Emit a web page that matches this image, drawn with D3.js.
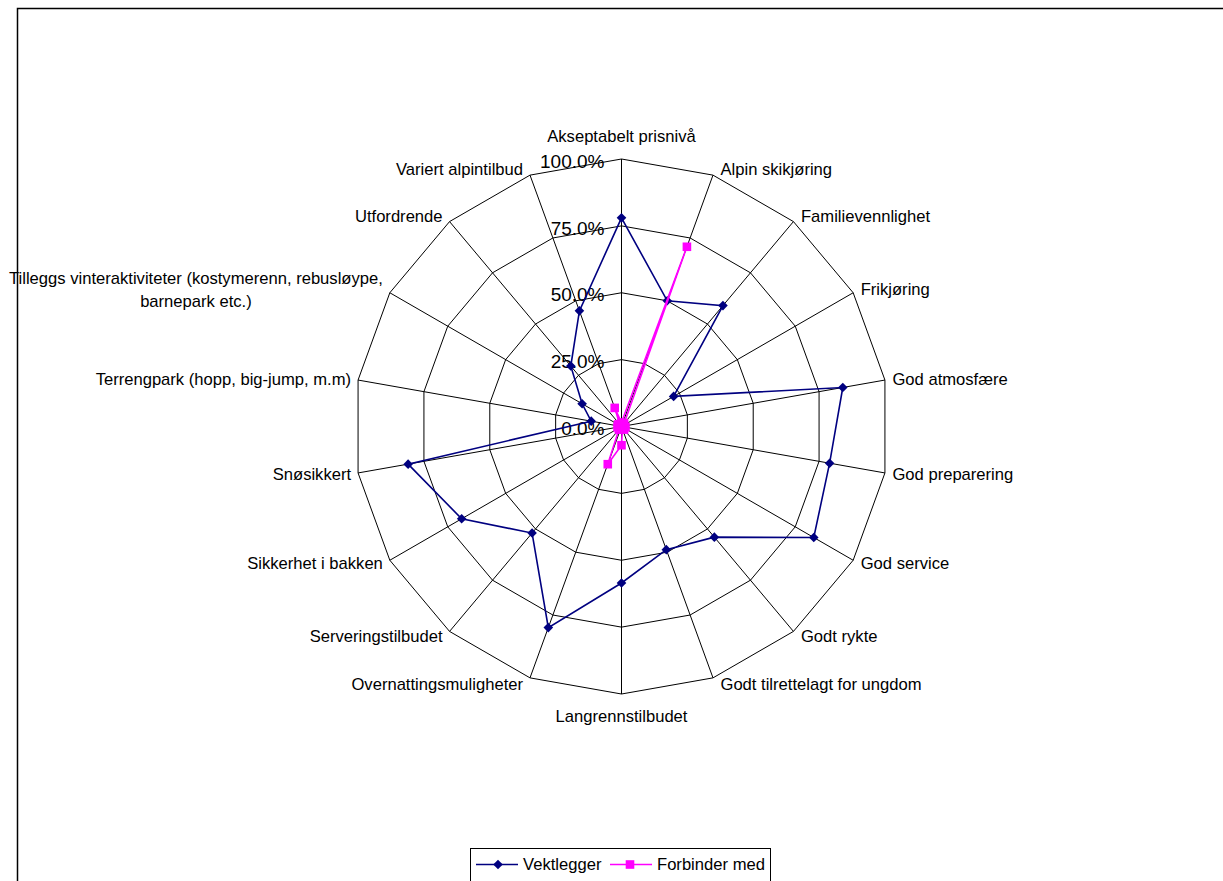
<!DOCTYPE html>
<html><head><meta charset="utf-8">
<script src="https://cdn.jsdelivr.net/npm/d3@7"></script>
<style>
body{margin:0;background:#fff}
svg{display:block}
text{font-family:"Liberation Sans",Arial,sans-serif;fill:#000}
</style>
</head><body>
<svg id="chart" width="1223" height="881"></svg>
<script>
const categories = [
  "Akseptabelt prisnivå",
  "Alpin skikjøring",
  "Familievennlighet",
  "Frikjøring",
  "God atmosfære",
  "God preparering",
  "God service",
  "Godt rykte",
  "Godt tilrettelagt for ungdom",
  "Langrennstilbudet",
  "Overnattingsmuligheter",
  "Serveringstilbudet",
  "Sikkerhet i bakken",
  "Snøsikkert",
  "Terrengpark (hopp, big-jump, m.m)",
  "Tilleggs vinteraktiviteter (kostymerenn, rebusløype, barnepark etc.)",
  "Utfordrende",
  "Variert alpintilbud"
];
const vektlegger = [78, 50, 59, 22.5, 84, 79, 83, 54, 49, 58.5, 80, 52, 69, 81, 11.5, 17, 29.5, 46];
const forbinderMed = [1.5, 71.5, 1.5, 1, 1, 1.5, 1, 1.5, 1, 7, 15, 1.5, 1, 1.5, 1, 1.5, 1, 7.4];
const tickValues = [0, 25, 50, 75, 100];
const seriesNames = ["Vektlegger", "Forbinder med"];
const seriesColors = ["#000080", "#FF00FF"];

const svg = d3.select("#chart");
const cx = 621.5, cy = 426.5, R = 267.5;
const n = categories.length;

const r = d3.scaleLinear().domain([0, 100]).range([0, R]);
const angle = d3.scaleLinear().domain([0, n]).range([0, 2 * Math.PI]);

// outer frame
svg.append("rect").attr("x", 17.5).attr("y", 8.5).attr("width", 1240).attr("height", 900)
  .attr("fill", "none").attr("stroke", "#000").attr("stroke-width", 1.5);

const g = svg.append("g").attr("transform", `translate(${cx},${cy})`);

const ringLine = d3.lineRadial().curve(d3.curveLinearClosed)
  .angle((d, i) => angle(i)).radius(d => r(d));

// grid rings
const gridG = g.append("g");
tickValues.filter(t => t > 0).forEach(t => {
  gridG.append("path").attr("d", ringLine(categories.map(() => t)))
    .attr("fill", "none").attr("stroke", "#000").attr("stroke-width", 1);
});
// spokes
categories.forEach((c, i) => {
  const a = angle(i);
  gridG.append("line").attr("x1", 0).attr("y1", 0)
    .attr("x2", r(100) * Math.sin(a)).attr("y2", -r(100) * Math.cos(a))
    .attr("stroke", "#000").attr("stroke-width", 1);
});

// tick labels
const fmt = d3.format(".1%");
g.append("g").selectAll("text").data(tickValues).join("text")
  .attr("x", -17).attr("y", d => -r(d) + 2)
  .attr("dy", "0.35em").attr("text-anchor", "end")
  .style("font-size", "19px")
  .text(d => fmt(d / 100));

// category labels
const labelG = g.append("g").style("font-size", "16.6px");
function wrapWords(text, maxW) {
  const words = text.split(" ");
  const lines = [];
  let cur = "";
  const probe = labelG.append("text");
  words.forEach(w => {
    const test = cur ? cur + " " + w : w;
    probe.text(test);
    if (probe.node().getComputedTextLength() > maxW && cur) {
      lines.push(cur); cur = w;
    } else cur = test;
  });
  lines.push(cur);
  probe.remove();
  return lines;
}
categories.forEach((c, i) => {
  const a = angle(i), s = Math.sin(a), co = Math.cos(a);
  const vx = r(100) * s, vy = -r(100) * co;
  const lines = wrapWords(c, 375);
  const lh = 23;
  let anchor, x, yc;
  if (Math.abs(s) < 0.05) {
    anchor = "middle"; x = vx; yc = vy - 22.5 * co;
  } else {
    anchor = s > 0 ? "start" : "end";
    x = s > 0 ? vx + 7.5 : vx - 7;
    yc = vy - 6.5 * co;
  }
  const t = labelG.append("text").attr("dy", "0.35em");
  if (lines.length === 1) {
    t.attr("x", x).attr("y", yc).attr("text-anchor", anchor).text(lines[0]);
  } else {
    // measure widest line, centre the block
    const probe = labelG.append("text");
    const widths = lines.map(l => { probe.text(l); return probe.node().getComputedTextLength(); });
    probe.remove();
    const maxW = d3.max(widths);
    const xc = anchor === "start" ? x + maxW / 2 : anchor === "end" ? x - maxW / 2 : x;
    t.attr("text-anchor", "middle");
    lines.forEach((l, k) => {
      t.append("tspan").attr("x", xc)
        .attr("y", yc + (k - (lines.length - 1) / 2) * lh)
        .attr("dy", "0.35em").text(l);
    });
  }
});

// series
const diamond = "M0,-4.8L4.8,0L0,4.8L-4.8,0Z";
const square = "M-4.3,-4.3H4.3V4.3H-4.3Z";
const seriesData = [vektlegger, forbinderMed];
const markers = [diamond, square];
seriesData.forEach((vals, si) => {
  const sg = g.append("g");
  sg.append("path").attr("d", ringLine(vals))
    .attr("fill", "none").attr("stroke", seriesColors[si]).attr("stroke-width", 1.6);
  vals.forEach((v, i) => {
    const a = angle(i);
    sg.append("path").attr("d", markers[si])
      .attr("transform", `translate(${r(v) * Math.sin(a)},${-r(v) * Math.cos(a)})`)
      .attr("fill", seriesColors[si]);
  });
});

// legend
const lg = svg.append("g");
lg.append("rect").attr("x", 470.5).attr("y", 848.5).attr("width", 300).attr("height", 40)
  .attr("fill", "#fff").attr("stroke", "#000").attr("stroke-width", 1);
const legendItems = [
  {x1: 476, x2: 518, mx: 498, tx: 523},
  {x1: 610, x2: 652, mx: 630, tx: 657}
];
legendItems.forEach((it, si) => {
  lg.append("line").attr("x1", it.x1).attr("x2", it.x2).attr("y1", 864.5).attr("y2", 864.5)
    .attr("stroke", seriesColors[si]).attr("stroke-width", 1.6);
  lg.append("path").attr("d", markers[si]).attr("transform", `translate(${it.mx},864.5)`)
    .attr("fill", seriesColors[si]);
  lg.append("text").attr("x", it.tx).attr("y", 864.5).attr("dy", "0.35em")
    .style("font-size", "16.6px").text(seriesNames[si]);
});
</script>
</body></html>
